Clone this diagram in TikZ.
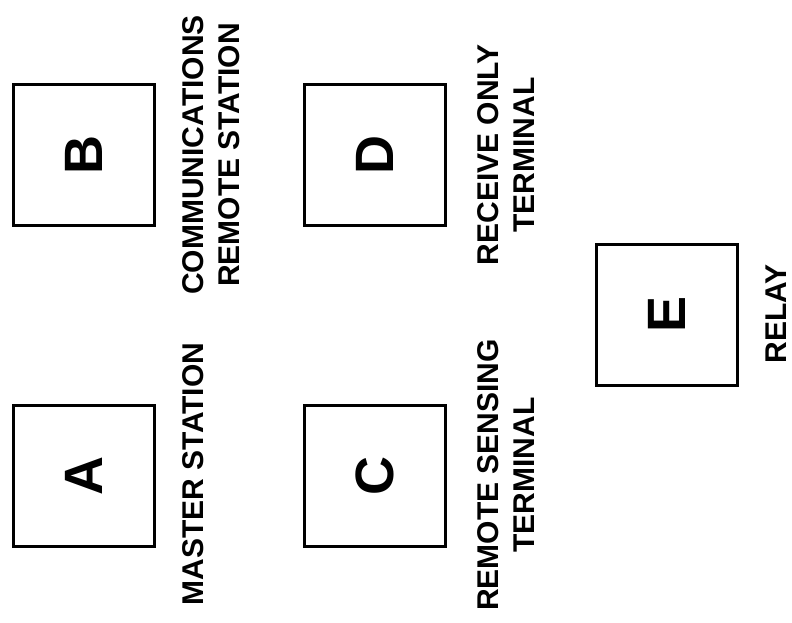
\documentclass[tikz,border=0pt]{standalone}
\usepackage{fontspec}
\setmainfont{Liberation Sans}

\begin{document}
\begin{tikzpicture}[
    x=1pt, y=-1pt,
    station/.style={rectangle, draw=black, line width=3pt, fill=white,
                    minimum size=141pt, inner sep=0pt, rotate=90,
                    font=\bfseries\fontsize{54}{54}\selectfont},
    lbl/.style={align=center, rotate=90, inner sep=0pt,
                font=\bfseries\fontsize{30}{36}\selectfont},
]

\useasboundingbox (0,0) rectangle (792,622);

% === Stations ===

% Column x-positions
\def\xleft{84}
\def\xmid{375}
\def\xright{666.5}
% Row y-positions
\def\ytop{155}
\def\ybot{475.5}

% --- Boxes ---
\foreach \n/\xpos/\ypos in {A/\xleft/\ybot, B/\xleft/\ytop, C/\xmid/\ybot, D/\xmid/\ytop, E/\xright/314.5} {
    \node[station] (\n) at (\xpos, \ypos) {\n};
}

% --- Labels ---
\node[lbl] (lblA) at (193.5, 474) {MASTER STATION};
\node[lbl] (lblB) at (211, 155) {COMMUNICATIONS\\REMOTE STATION};
\node[lbl] (lblC) at (506, 475) {REMOTE SENSING\\TERMINAL};
\node[lbl] (lblD) at (506, 155) {RECEIVE ONLY\\TERMINAL};
\node[lbl] (lblE) at (776.5, 314) {RELAY};

\end{tikzpicture}
\end{document}
